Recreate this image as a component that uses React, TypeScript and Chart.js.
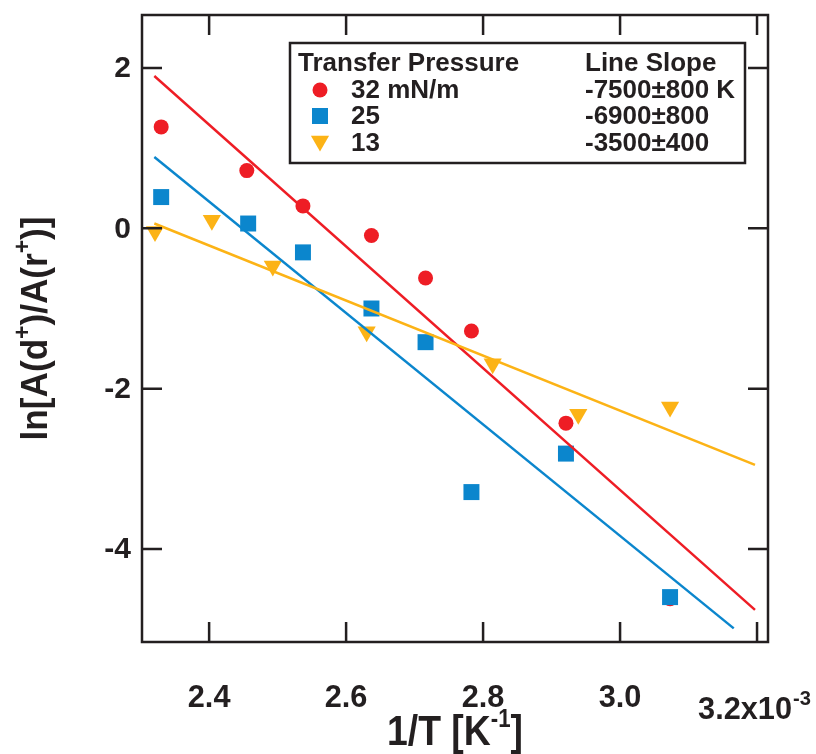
import React, { useEffect, useRef } from "react";
import { Chart, registerables } from "chart.js";

Chart.register(...registerables);

// ---- data ----
const invT32 = [2.33, 2.455, 2.537, 2.637, 2.716, 2.783, 2.921, 3.073];
const ln32 = [1.265, 0.72, 0.28, -0.09, -0.62, -1.28, -2.43, -4.62];
const invT25 = [2.33, 2.457, 2.537, 2.637, 2.716, 2.783, 2.921, 3.073];
const ln25 = [0.39, 0.06, -0.3, -1.0, -1.42, -3.29, -2.81, -4.6];
const invT13 = [2.321, 2.404, 2.493, 2.63, 2.814, 2.939, 3.073];
const ln13 = [-0.04, 0.1, -0.47, -1.29, -1.69, -2.32, -2.23];

const fitX32 = [2.32, 3.197];
const fitY32 = [1.9, -4.76];
const fitX25 = [2.32, 3.166];
const fitY25 = [0.89, -4.99];
const fitX13 = [2.32, 3.197];
const fitY13 = [0.06, -2.95];

const xTicks = [2.4, 2.6, 2.8, 3.0, 3.2];
const xTickLabels = ["2.4", "2.6", "2.8", "3.0", "3.2x10"];
const xTickExponent = "-3";
const yTicks = [2, 0, -2, -4];
const yTickLabels = ["2", "0", "-2", "-4"];

const legendHeader = "Transfer Pressure";
const slopeHeader = "Line Slope";
const pressures = ["32 mN/m", "25", "13"];
const slopes = ["-7500\u00B1800 K", "-6900\u00B1800", "-3500\u00B1400"];

const RED = "#EE1D25";
const BLUE = "#0B86CD";
const YELLOW = "#FCB316";
const INK = "#231F20";
const FONT = "'Liberation Sans', Arial, Helvetica, sans-serif";

const toPts = (xs: number[], ys: number[]) => xs.map((x, i) => ({ x, y: ys[i] }));

function drawScaled(ctx: CanvasRenderingContext2D, text: string, x: number, y: number, s: number) {
  ctx.save();
  ctx.translate(x, y);
  ctx.scale(s, 1);
  ctx.fillText(text, 0, 0);
  ctx.restore();
}

const framePlugin = {
  id: "framePlugin",
  afterDraw(chart: any) {
    const ctx: CanvasRenderingContext2D = chart.ctx;
    const { left, top, right, bottom } = chart.chartArea;
    const xs = chart.scales.x;
    const ys = chart.scales.y;
    ctx.save();
    ctx.strokeStyle = INK;
    ctx.fillStyle = INK;
    ctx.lineWidth = 2.5;
    ctx.strokeRect(left, top, right - left, bottom - top);
    const tl = 20;
    ctx.beginPath();
    xTicks.forEach((v) => {
      const px = xs.getPixelForValue(v);
      ctx.moveTo(px, bottom);
      ctx.lineTo(px, bottom - tl);
      ctx.moveTo(px, top);
      ctx.lineTo(px, top + tl);
    });
    yTicks.forEach((v) => {
      const py = ys.getPixelForValue(v);
      ctx.moveTo(left, py);
      ctx.lineTo(left + tl, py);
      ctx.moveTo(right, py);
      ctx.lineTo(right - tl, py);
    });
    ctx.stroke();

    // y tick labels
    ctx.font = `bold 30px ${FONT}`;
    ctx.textAlign = "right";
    ctx.textBaseline = "middle";
    yTicks.forEach((v, i) => {
      ctx.fillText(yTickLabels[i], left - 11, ys.getPixelForValue(v) + 1);
    });

    // x tick labels
    ctx.font = `bold 32px ${FONT}`;
    ctx.textBaseline = "alphabetic";
    ctx.textAlign = "left";
    const xsScale = 0.96;
    xTicks.forEach((v, i) => {
      const px = xs.getPixelForValue(v);
      const t = xTickLabels[i];
      const w = ctx.measureText(t).width * xsScale;
      if (i < xTicks.length - 1) {
        drawScaled(ctx, t, px - w / 2, 707, xsScale);
      } else {
        const x0 = px - 59;
        drawScaled(ctx, t, x0, 719, xsScale);
        ctx.font = `bold 21px ${FONT}`;
        drawScaled(ctx, xTickExponent, x0 + w + 1, 705, xsScale);
        ctx.font = `bold 32px ${FONT}`;
      }
    });

    // x title
    {
      const s = 0.89;
      ctx.font = `bold 42px ${FONT}`;
      const a = "1/T [K";
      const c = "]";
      const wa = ctx.measureText(a).width * s;
      const wc = ctx.measureText(c).width * s;
      ctx.font = `bold 25px ${FONT}`;
      const b = "-1";
      const wb = ctx.measureText(b).width * s;
      const total = wa + wb + wc;
      const x0 = (left + right) / 2 - total / 2;
      const base = 745;
      ctx.font = `bold 42px ${FONT}`;
      drawScaled(ctx, a, x0, base, s);
      drawScaled(ctx, c, x0 + wa + wb, base, s);
      ctx.font = `bold 25px ${FONT}`;
      drawScaled(ctx, b, x0 + wa, base - 18, s);
    }

    // y title (rotated)
    {
      const s = 0.95;
      const main = `bold 37px ${FONT}`;
      const sup = `bold 24px ${FONT}`;
      const pieces: [string, boolean][] = [
        ["ln[A(d", false],
        ["+", true],
        [")/A(r", false],
        ["+", true],
        [")]", false],
      ];
      const widths = pieces.map(([t, isSup]) => {
        ctx.font = isSup ? sup : main;
        return ctx.measureText(t).width * s;
      });
      const total = widths.reduce((a, b) => a + b, 0);
      ctx.save();
      ctx.translate(47, (top + bottom) / 2);
      ctx.rotate(-Math.PI / 2);
      let cx = -total / 2;
      pieces.forEach(([t, isSup], i) => {
        ctx.font = isSup ? sup : main;
        drawScaled(ctx, t, cx, isSup ? -17 : 0, s);
        cx += widths[i];
      });
      ctx.restore();
    }

    // legend box
    ctx.lineWidth = 2.5;
    ctx.strokeRect(290, 43, 455, 120);
    ctx.font = `bold 26px ${FONT}`;
    ctx.textAlign = "left";
    ctx.textBaseline = "alphabetic";
    ctx.fillText(legendHeader, 298, 71);
    ctx.fillText(slopeHeader, 585, 71);
    const baselines = [98, 124, 151];
    const colors = [RED, BLUE, YELLOW];
    pressures.forEach((p, i) => {
      ctx.fillStyle = INK;
      ctx.fillText(p, 351, baselines[i]);
      ctx.fillText(slopes[i], 585, baselines[i]);
      const mx = 320;
      const my = baselines[i] - 8;
      ctx.fillStyle = colors[i];
      ctx.beginPath();
      if (i === 0) {
        ctx.arc(mx, my, 7.5, 0, Math.PI * 2);
      } else if (i === 1) {
        ctx.rect(mx - 8, my - 8, 16, 16);
      } else {
        const r = 10.5;
        const cy = my - 2;
        ctx.moveTo(mx, cy + r);
        ctx.lineTo(mx - r * 0.866, cy - r / 2);
        ctx.lineTo(mx + r * 0.866, cy - r / 2);
        ctx.closePath();
      }
      ctx.fill();
    });
    ctx.restore();
  },
};

export default function App() {
  const ref = useRef<HTMLCanvasElement | null>(null);
  useEffect(() => {
    document.body.style.margin = "0";
    const canvas = ref.current;
    if (!canvas) return;
    const chart = new Chart(canvas, {
      type: "scatter",
      data: {
        datasets: [
          {
            label: "32 mN/m",
            data: toPts(invT32, ln32),
            backgroundColor: RED,
            borderColor: RED,
            pointStyle: "circle",
            pointRadius: 7.5,
            borderWidth: 0,
            order: 6,
          },
          {
            label: "25",
            data: toPts(invT25, ln25),
            backgroundColor: BLUE,
            borderColor: BLUE,
            pointStyle: "rect",
            pointRadius: 11.3,
            borderWidth: 0,
            order: 5,
          },
          {
            label: "13",
            data: toPts(invT13, ln13),
            backgroundColor: YELLOW,
            borderColor: YELLOW,
            pointStyle: "triangle",
            rotation: 180,
            pointRadius: 10.5,
            borderWidth: 0,
            order: 4,
          },
          {
            label: "fit 32",
            data: toPts(fitX32, fitY32),
            showLine: true,
            borderColor: RED,
            borderWidth: 2.5,
            pointRadius: 0,
            order: 3,
          },
          {
            label: "fit 25",
            data: toPts(fitX25, fitY25),
            showLine: true,
            borderColor: BLUE,
            borderWidth: 2.5,
            pointRadius: 0,
            order: 2,
          },
          {
            label: "fit 13",
            data: toPts(fitX13, fitY13),
            showLine: true,
            borderColor: YELLOW,
            borderWidth: 2.5,
            pointRadius: 0,
            order: 1,
          },
        ],
      },
      options: {
        responsive: false,
        animation: false,
        layout: { padding: { left: 142, top: 15, right: 48, bottom: 112 } },
        plugins: { legend: { display: false }, tooltip: { enabled: false } },
        scales: {
          x: { type: "linear", min: 2.302, max: 3.216, display: false },
          y: { type: "linear", min: -5.16, max: 2.661, display: false },
        },
      },
      plugins: [framePlugin],
    });
    return () => chart.destroy();
  }, []);
  return (
    <div style={{ width: 816, height: 754, overflow: "hidden", background: "#fff" }}>
      <canvas ref={ref} width={816} height={754} style={{ display: "block" }} />
    </div>
  );
}
